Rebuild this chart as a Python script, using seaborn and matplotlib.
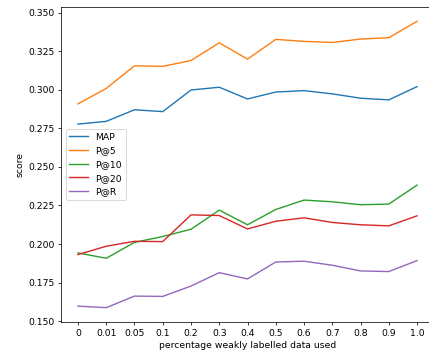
import matplotlib
matplotlib.use("Agg")
import matplotlib.pyplot as plt
import seaborn as sns
import pandas as pd

fractions = ["0", "0.01", "0.05", "0.1", "0.2", "0.3", "0.4", "0.5", "0.6", "0.7", "0.8", "0.9", "1.0"]
map_vals = [0.2777, 0.2795, 0.2870, 0.2858, 0.2998, 0.3016, 0.2940, 0.2985, 0.2994, 0.2973, 0.2945, 0.2934, 0.3020]
p5_vals = [0.2908, 0.3008, 0.3155, 0.3151, 0.3189, 0.3304, 0.3198, 0.3326, 0.3313, 0.3306, 0.3328, 0.3337, 0.3443]
p10_vals = [0.1943, 0.1908, 0.2011, 0.2049, 0.2096, 0.2220, 0.2125, 0.2224, 0.2285, 0.2274, 0.2255, 0.2259, 0.2382]
p20_vals = [0.1932, 0.1986, 0.2018, 0.2016, 0.2189, 0.2185, 0.2098, 0.2148, 0.2170, 0.2140, 0.2125, 0.2118, 0.2183]
pr_vals = [0.1598, 0.1588, 0.1663, 0.1661, 0.1728, 0.1815, 0.1774, 0.1884, 0.1889, 0.1863, 0.1826, 0.1822, 0.1893]
metrics = ["MAP", "P@5", "P@10", "P@20", "P@R"]

series = [map_vals, p5_vals, p10_vals, p20_vals, pr_vals]
rows = []
for name, vals in zip(metrics, series):
    for f, v in zip(fractions, vals):
        rows.append({"fraction": f, "score": v, "metric": name})
df = pd.DataFrame(rows)

dpi = 67
fig = plt.figure(figsize=(429 / dpi, 352 / dpi), dpi=dpi)
ax = fig.add_axes([61 / 429, 1 - 322 / 352, (434 - 61) / 429, (322 - 7) / 352])
sns.lineplot(data=df, x="fraction", y="score", hue="metric", sort=False,
             palette=sns.color_palette("tab10", 5), ax=ax, linewidth=1.5)
handles, labels = ax.get_legend_handles_labels()
ax.legend(handles, labels, loc="center left")
ax.set_xlabel("percentage weakly labelled data used")
ax.set_ylabel("score")
fig.savefig("out.png", dpi=dpi)
